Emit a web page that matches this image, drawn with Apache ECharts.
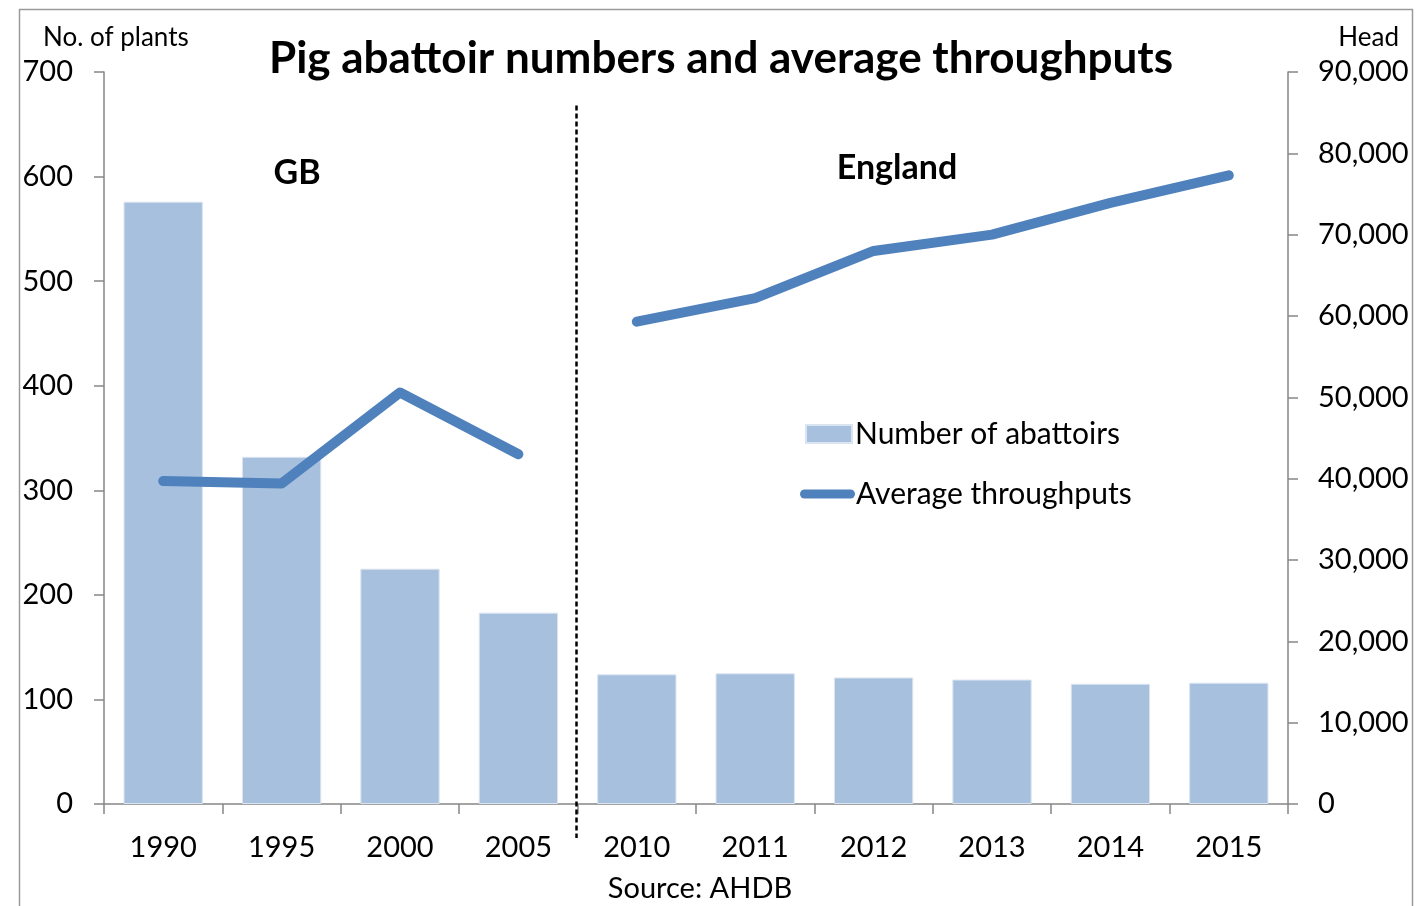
<!DOCTYPE html>
<html>
<head>
<meta charset="utf-8">
<script src="https://cdn.jsdelivr.net/npm/echarts@6/dist/echarts.min.js"></script>
<style>
html,body{margin:0;padding:0;background:#fff;}
#chart{width:1416px;height:906px;}
</style>
</head>
<body>
<div id="chart"></div>
<script>
var categories = ['1990','1995','2000','2005','2010','2011','2012','2013','2014','2015'];
var abattoirs = [576, 332, 225, 183, 124, 125, 121, 119, 115, 116];
var throughputGB = [39700, 39400, 50600, 43000, '-', '-', '-', '-', '-', '-'];
var throughputEngland = ['-', '-', '-', '-', 59300, 62200, 68000, 70000, 73900, 77300];
var leftTicks = {min: 0, max: 700, interval: 100};
var rightTicks = {min: 0, max: 90000, interval: 10000};

var FONT = 'Lato';
var axisColor = '#868686';
var barColor = '#a7c0de';
var lineColor = '#4f81bd';

var chart = echarts.init(document.getElementById('chart'));
var option = {
  backgroundColor: '#fff',
  animation: false,
  textStyle: {fontFamily: FONT, color: '#000'},
  title: [
    {text: 'Pig abattoir numbers and average throughputs', left: 716, top: 28, textAlign: 'center',
     textStyle: {fontFamily: FONT, fontSize: 44, fontWeight: 'bold', color: '#000', lineHeight: 52}},
    {text: 'No. of plants', left: 38, top: 18, textStyle: {fontFamily: FONT, fontSize: 26, fontWeight: 'normal', color: '#000', lineHeight: 30}},
    {text: 'Head', left: 1394, top: 18, textAlign: 'right', textStyle: {fontFamily: FONT, fontSize: 26, fontWeight: 'normal', color: '#000', lineHeight: 30}},
    {text: 'GB', left: 292, top: 148, textAlign: 'center', textStyle: {fontFamily: FONT, fontSize: 34, fontWeight: 'bold', color: '#000', lineHeight: 40}},
    {text: 'England', left: 892, top: 143, textAlign: 'center', textStyle: {fontFamily: FONT, fontSize: 34, fontWeight: 'bold', color: '#000', lineHeight: 40}},
    {text: 'Source: AHDB', left: 695, top: 867, textAlign: 'center', textStyle: {fontFamily: FONT, fontSize: 29, fontWeight: 'normal', color: '#000', lineHeight: 34}}
  ],
  legend: [
    {data: ['Number of abattoirs'], left: 805, top: 419, orient: 'vertical', itemWidth: 46, itemHeight: 18, itemGap: 0,
     icon: 'rect', textStyle: {fontFamily: FONT, fontSize: 30, color: '#000', padding: [0, 0, 0, -2]}, padding: 0},
    {data: ['Average throughputs'], left: 800, top: 479, orient: 'vertical', itemWidth: 55, itemHeight: 9,
     icon: 'path://M4.5,0 L50.5,0 A4.5,4.5 0 0 1 50.5,9 L4.5,9 A4.5,4.5 0 0 1 4.5,0 Z',
     itemStyle: {color: lineColor}, textStyle: {fontFamily: FONT, fontSize: 30, color: '#000', padding: [0, 0, 0, -4]}, padding: 0}
  ],
  grid: {left: 104, right: 128, top: 72, bottom: 102, containLabel: false},
  xAxis: {
    type: 'category', data: categories,
    axisLine: {lineStyle: {color: axisColor, width: 1.5}},
    axisTick: {show: true, length: 10, lineStyle: {color: axisColor, width: 1.5}},
    axisLabel: {fontFamily: FONT, fontSize: 29, color: '#000', margin: 29}
  },
  yAxis: [
    {type: 'value', min: leftTicks.min, max: leftTicks.max, interval: leftTicks.interval,
     axisLine: {show: true, lineStyle: {color: axisColor, width: 1.5}},
     axisTick: {show: true, length: 10, lineStyle: {color: axisColor, width: 1.5}},
     splitLine: {show: false},
     axisLabel: {fontFamily: FONT, fontSize: 29, color: '#000', margin: 31}},
    {type: 'value', min: rightTicks.min, max: rightTicks.max, interval: rightTicks.interval, position: 'right',
     axisLine: {show: true, lineStyle: {color: axisColor, width: 1.5}},
     axisTick: {show: true, length: 10, lineStyle: {color: axisColor, width: 1.5}},
     splitLine: {show: false},
     axisLabel: {fontFamily: FONT, fontSize: 29, color: '#000', margin: 30,
       formatter: function (v) { return v.toLocaleString('en-US'); }}}
  ],
  series: [
    {name: 'Number of abattoirs', type: 'bar', data: abattoirs, yAxisIndex: 0, barCategoryGap: '33%',
     itemStyle: {color: barColor, borderColor: '#dbe5f1', borderWidth: 1}},
    {name: 'Average throughputs', type: 'line', data: throughputGB, yAxisIndex: 1, symbol: 'none',
     lineStyle: {color: lineColor, width: 10, cap: 'round', join: 'round'}, itemStyle: {color: lineColor}},
    {name: 'Average throughputs', type: 'line', data: throughputEngland, yAxisIndex: 1, symbol: 'none',
     lineStyle: {color: lineColor, width: 10, cap: 'round', join: 'round'}, itemStyle: {color: lineColor}}
  ]
};
chart.setOption(option);

// divider between the GB and England periods, positioned from the axis scale
var x2005 = chart.convertToPixel({xAxisIndex: 0}, '2005');
var x2010 = chart.convertToPixel({xAxisIndex: 0}, '2010');
var xMid = Math.round((x2005 + x2010) / 2) - 1.5;
var yTop = chart.convertToPixel({yAxisIndex: 0}, 668);
var yBottom = chart.convertToPixel({yAxisIndex: 0}, 0) + 34;
chart.setOption({
  graphic: [
    {type: 'rect', shape: {x: 19.5, y: 9.5, width: 1393, height: 1000}, style: {fill: 'none', stroke: '#9a9a9a', lineWidth: 1.5}, silent: true, z: -1},
    {type: 'line', shape: {x1: xMid, y1: yTop, x2: xMid, y2: yBottom},
     style: {stroke: '#000', lineWidth: 2.5, lineDash: [5, 3]}, silent: true, z: 100}
  ]
});
</script>
</body>
</html>
